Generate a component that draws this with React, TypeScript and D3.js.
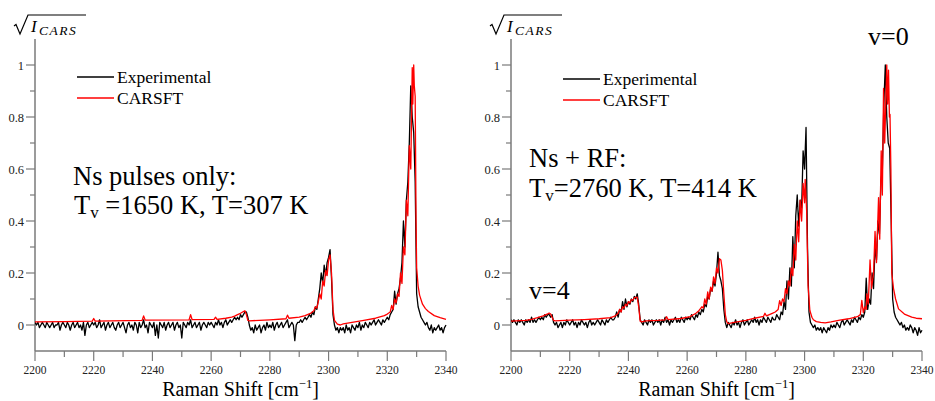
import * as d3 from 'd3';

// experimental spectra, sampled every 0.5 cm-1 from 2200, values in units of 0.01
const expStart = 2200;
const expStep = 0.5;

const nsOnlyExp = [
  1, 0, 1, -1, 0, 1, 0, -1, 1, 0, -1, 0, 1, -1, 0, 0, 1, -2, 0, 1,
  0, -1, 1, 0, -2, 0, 1, -1, 0, 1, -1, 0, -2, 1, -4, 0, 1, -1, 0, 1,
  0, 1, -1, 0, 2, -1, 0, 1, -2, 0, 1, -1, 0, 1, -1, -2, 0, 1, -1, 0,
  1, -1, -3, 0, 1, -1, 0, -2, 1, 0, -3, 1, -1, 0, 2, -1, 0, -3, 1, 0,
  -1, 1, -4, 0, -5, 1, 0, -1, 1, -2, 0, 1, -1, 0, 1, -2, 0, 1, -1, 0,
  -5, 1, 0, -1, 1, 0, 2, -1, 0, 1, -1, 0, 1, -2, 0, 1, 0, -1, 1, 0,
  1, 0, -1, 1, 0, 2, 0, 1, -1, 1, 2, 0, 1, 2, 1, 2, 3, 2, 3, 2,
  4, 3, 4, 5, 5, 3, 0, -2, -1, -3, 0, -2, -1, 0, -3, -1, 0, -2, 1, -1,
  0, -1, 1, -2, 0, 1, -1, 0, 1, -1, 0, 1, 2, -1, 0, 1, 0, -6, 0, 1,
  1, 2, 1, 2, 3, 2, 3, 4, 3, 5, 4, 7, 6, 10, 14, 20, 16, 23, 19, 24,
  26, 29, 18, 4, 0, -2, -1, -3, -1, -2, -1, -3, 0, -2, -1, -3, 0, -1, -2, 0,
  -1, 1, -2, 0, -1, 1, 0, -1, 1, 0, 1, 2, 0, 1, 2, 1, 0, 2, 1, 2,
  3, 2, 4, 5, 6, 13, 8, 12, 14, 18, 24, 40, 30, 48, 55, 70, 92, 80, 74, 55,
  12, 7, 5, 3, 2, 1, 0, 1, -1, -2, 0, -3, -1, -2, -1, 0, -2, -1, -3, -1,
  0,
];

const nsRfExp = [
  2, 1, 2, 1, 0, 2, 1, 2, 1, 0, 2, 1, 2, 1, 3, 1, 2, 1, 2, 3,
  2, 3, 2, 4, 3, 4, 4, 3, 4, 1, 0, 1, -1, 0, 1, -1, 1, 0, 2, 1,
  0, 1, 2, 0, 1, -1, 1, 0, 2, 1, 0, 1, -1, 1, 2, 0, 1, 0, 1, 2,
  1, 0, 2, 1, 0, 2, 1, 2, 3, 2, 2, 3, 5, 3, 6, 5, 9, 6, 10, 7,
  9, 8, 10, 9, 11, 10, 12, 8, 2, 1, 0, 2, 1, 0, 2, 1, 2, 0, 1, 2,
  1, 2, 0, 2, 1, 3, 1, 2, 0, 2, 1, 2, 3, 1, 2, 1, 3, 2, 1, 3,
  2, 3, 2, 4, 3, 2, 4, 3, 5, 4, 6, 5, 8, 7, 11, 10, 14, 13, 17, 15,
  20, 28, 19, 17, 14, 6, 1, -1, 1, 0, -1, 1, 0, 2, 0, 1, -1, 1, 2, 0,
  1, 2, 0, 1, 2, 1, 3, 1, 2, 0, 2, 1, 3, 2, 1, 3, 2, 1, 3, 2,
  2, 4, 3, 2, 5, 4, 9, 6, 17, 10, 22, 15, 34, 22, 42, 50, 38, 48, 45, 67,
  60, 76, 30, 5, 1, 0, -1, 0, -2, -1, -2, -1, -3, -1, -2, -3, -1, -2, 0, -1,
  0, -1, 1, 0, -1, 1, 2, 0, 1, 2, 1, 0, 2, 1, 3, 2, 1, 3, 2, 4,
  3, 5, 18, 6, 10, 8, 20, 14, 30, 25, 40, 35, 55, 60, 85, 100, 80, 70, 68, 40,
  10, 5, 3, 2, 1, 0, 1, -1, 0, -2, -1, -2, 0, -1, -3, -1, -2, -4, -1, -3,
  -2,
];

// CARSFT fits (Raman shift, value in units of 0.01)
const nsOnlyFitShift = [
  2200, 2210, 2219.5, 2220, 2220.5, 2236.5, 2237, 2237.5, 2252.5, 2253, 2253.5, 2261, 2261.5, 2262,
  2265, 2267, 2268, 2269, 2270, 2271, 2271.5, 2272, 2272.5, 2273, 2280, 2285.5, 2286, 2286.5,
  2290, 2292, 2294, 2295, 2295.5, 2296, 2296.5, 2297, 2297.5, 2298, 2298.5, 2299, 2299.5, 2300,
  2300.5, 2301, 2301.5, 2302, 2303, 2304, 2305, 2308, 2312, 2316, 2319, 2320, 2321, 2321.5,
  2322, 2322.5, 2323, 2323.5, 2324, 2324.5, 2325, 2325.5, 2326, 2326.5, 2327, 2327.5, 2328,
  2328.5, 2328.7, 2329, 2329.2, 2329.5, 2329.8, 2330, 2330.5, 2331, 2332, 2333, 2334, 2336,
  2338, 2340,
];
const nsOnlyFit = [
  1.2, 1.3, 1.5, 2.5, 1.5, 1.8, 3.5, 1.9, 2.0, 4.0, 2.1, 2.2, 3.0, 2.2,
  2.6, 3.0, 3.4, 4.0, 4.5, 5.2, 5.5, 4.0, 1.8, 1.6, 2.0, 2.4, 3.8, 2.6,
  3.0, 3.6, 4.6, 5.5, 7, 6.5, 9, 12, 10, 17, 15, 21, 19, 25,
  27, 20, 6, 1.8, 0.3, 0, 0.4, 1.0, 1.8, 2.6, 3.6, 4.2, 5, 7.5,
  6, 10, 8.5, 12, 11, 20, 16, 30, 27, 48, 42, 69, 60,
  99, 85, 100, 92, 88, 40, 22, 15, 11.5, 8, 6.3, 5.2, 3.6,
  2.8, 2.2,
];

const nsRfFitShift = [
  2200, 2205, 2207, 2209, 2211, 2212.5, 2213, 2213.5, 2214, 2214.5, 2215, 2220, 2225, 2230,
  2234, 2235.5, 2236.5, 2237, 2237.5, 2238, 2238.5, 2239, 2239.5, 2240, 2240.5, 2241, 2241.5, 2242,
  2243, 2243.5, 2244, 2244.5, 2246, 2250, 2252.5, 2253, 2253.5, 2258, 2261, 2263, 2264, 2265,
  2265.5, 2266, 2266.5, 2267, 2267.5, 2268, 2268.5, 2269, 2269.5, 2270, 2270.5, 2271, 2271.5, 2272,
  2272.5, 2273, 2273.5, 2274, 2276, 2280, 2283, 2286, 2286.5, 2287, 2289, 2290, 2291, 2291.5,
  2292, 2292.5, 2293, 2293.5, 2294, 2294.5, 2295, 2295.5, 2296, 2296.5, 2297, 2297.5, 2298, 2298.5,
  2299, 2299.5, 2300, 2300.2, 2300.7, 2301.2, 2301.8, 2302.5, 2303, 2304, 2305.5, 2307, 2309, 2312,
  2315, 2318, 2319, 2319.5, 2320, 2320.5, 2321, 2321.2, 2321.7, 2322.3, 2322.8, 2323.5, 2324, 2324.5,
  2325.2, 2325.6, 2326.1, 2326.5, 2326.9, 2327.3, 2328, 2328.3, 2328.6, 2328.9, 2329.1, 2329.4, 2329.7,
  2330.3, 2331, 2332, 2334, 2336.5, 2338, 2340,
];
const nsRfFit = [
  1.5, 1.8, 2.2, 2.8, 3.5, 4.3, 4.6, 4.2, 3, 1.8, 1.6, 1.9, 2.1, 2.4,
  2.8, 3.5, 4.5, 6, 5, 7, 6.5, 8, 7.5, 9, 8.5, 9.8, 9.5, 10.5,
  10.7, 7, 1.5, 1.2, 1.6, 1.8, 2, 3.2, 2.1, 2.5, 3.2, 4.5, 5.5, 7,
  6.5, 10, 8, 12.7, 10, 14.6, 13, 18.5, 16, 22, 20, 25.5, 25, 21,
  12, 4, 1.2, 0.5, 1, 1.8, 2.6, 3.3, 4.5, 3.5, 4.5, 5, 6, 9.4,
  7.5, 10, 9, 14, 12, 17, 15, 22, 19, 31, 25, 40, 32, 48,
  40, 54.5, 47, 56, 44, 15, 5.6, 3, 2, 1.3, 1, 0.8, 1.2, 1.9,
  2.4, 3.2, 4, 9.5, 4.8, 7, 6, 12, 8, 25, 14, 20, 36, 24,
  49, 33, 67, 50, 91, 70, 100, 85, 98, 80, 81, 60, 20,
  14, 10, 6.2, 4.2, 3, 2.6, 2.4,
];

const xMajorTicks = [2200, 2220, 2240, 2260, 2280, 2300, 2320, 2340];
const xMinorTicks = [2210, 2230, 2250, 2270, 2290, 2310, 2330];
const yMajorTicks = [0, 0.2, 0.4, 0.6, 0.8, 1];
const yTickLabels = ['0', '0.2', '0.4', '0.6', '0.8', '1'];
const yMinorTicks = [0.1, 0.3, 0.5, 0.7, 0.9];
const seriesNames = ['Experimental', 'CARSFT'];

const serif = 'Liberation Serif, DejaVu Serif, serif';
const axisColor = '#7a7a7a';

type PanelProps = {
  left: number;
  id: string;
  exp: number[];
  fitShift: number[];
  fit: number[];
  legendX: number;
  legendY: number;
  children?: any;
};

function Panel({ left, id, exp, fitShift, fit, legendX, legendY, children }: PanelProps) {
  const x = d3.scaleLinear().domain([2200, 2340]).range([left, left + 411]);
  const y = d3.scaleLinear().domain([-0.1, 1.1]).range([351, 39]);

  const expLine = d3
    .line<number>()
    .x((_, i) => x(expStart + i * expStep))
    .y(d => y(d / 100));
  const fitLine = d3
    .line<number>()
    .x((_, i) => x(fitShift[i]))
    .y(d => y(d / 100));

  const bottom = y(-0.1);
  const top = y(1.1);

  return (
    <g>
      <defs>
        <clipPath id={id}>
          <rect x={x(2200)} y={top - 5} width={x(2340) - x(2200) + 1} height={bottom - top + 5} />
        </clipPath>
      </defs>

      {/* y label */}
      <path
        d={`M${left - 21},26 L${left - 19},24.5 L${left - 15},34 L${left - 7},15 L${left + 51},15`}
        fill="none"
        stroke="#000"
        strokeWidth={1.2}
      />
      <text x={left - 4} y={32} fontStyle="italic" fontSize={17}>I</text>
      <text x={left + 4} y={35} fontStyle="italic" fontSize={13.5} letterSpacing={1.5}>CARS</text>

      {/* axes */}
      <line x1={left} x2={left} y1={top} y2={bottom} stroke={axisColor} strokeWidth={1.5} />
      <line x1={left} x2={x(2340)} y1={bottom} y2={bottom} stroke={axisColor} strokeWidth={1.5} />
      {yMajorTicks.map((t, i) => (
        <g key={t}>
          <line x1={left - 9} x2={left} y1={y(t)} y2={y(t)} stroke={axisColor} strokeWidth={1.2} />
          <text x={left - 11} y={y(t) + 4.5} textAnchor="end" fontSize={12.5} fill="#222">
            {yTickLabels[i]}
          </text>
        </g>
      ))}
      {yMinorTicks.map(t => (
        <line key={t} x1={left - 5} x2={left} y1={y(t)} y2={y(t)} stroke={axisColor} strokeWidth={1.2} />
      ))}
      {xMajorTicks.map(t => (
        <g key={t}>
          <line x1={x(t)} x2={x(t)} y1={bottom} y2={bottom + 10} stroke={axisColor} strokeWidth={1.2} />
          <text x={x(t)} y={374} textAnchor="middle" fontSize={11.5} fill="#222">{t}</text>
        </g>
      ))}
      {xMinorTicks.map(t => (
        <line key={t} x1={x(t)} x2={x(t)} y1={bottom} y2={bottom + 6} stroke={axisColor} strokeWidth={1.2} />
      ))}
      <text x={(x(2200) + x(2340)) / 2} y={396} textAnchor="middle" fontSize={20}>
        Raman Shift [cm
        <tspan fontSize={12.5} dy={-8}>−1</tspan>
        <tspan dy={8}>]</tspan>
      </text>

      {/* data */}
      <g clipPath={`url(#${id})`}>
        <path d={expLine(exp) ?? ''} fill="none" stroke="#000" strokeWidth={1.3} strokeLinejoin="round" />
        <path d={fitLine(fit) ?? ''} fill="none" stroke="#ff0000" strokeWidth={1.3} strokeLinejoin="round" />
      </g>

      {/* legend */}
      {seriesNames.map((name, i) => (
        <g key={name}>
          <line x1={legendX} x2={legendX + 37} y1={legendY + i * 21} y2={legendY + i * 21}
            stroke={i === 0 ? '#000' : '#ff0000'} strokeWidth={1.5} />
          <text x={legendX + 40} y={legendY + i * 21 + 6} fontSize={17.5}>{name}</text>
        </g>
      ))}

      {children}
    </g>
  );
}

export default function App() {
  return (
    <svg width={935} height={401}
      style={{ position: 'absolute', left: 0, top: 0, background: '#fff', fontFamily: serif }}>
      <rect width={935} height={401} fill="#fff" />
      <Panel left={35} id="clipA" exp={nsOnlyExp} fitShift={nsOnlyFitShift} fit={nsOnlyFit} legendX={77} legendY={77}>
        <text x={73} y={185} fontSize={26.5}>Ns pulses only:</text>
        <text x={74} y={214} fontSize={26.5}>
          T<tspan fontSize={17} dy={4}>v</tspan>
          <tspan dy={-4}> =1650 K, T=307 K</tspan>
        </text>
      </Panel>
      <Panel left={511} id="clipB" exp={nsRfExp} fitShift={nsRfFitShift} fit={nsRfFit} legendX={563} legendY={79}>
        <text x={529} y={167} fontSize={26.5}>Ns + RF:</text>
        <text x={529} y={197} fontSize={26.5}>
          T<tspan fontSize={17} dy={4}>v</tspan>
          <tspan dy={-4}>=2760 K, T=414 K</tspan>
        </text>
        <text x={868} y={45} fontSize={26}>v=0</text>
        <text x={529} y={299} fontSize={26}>v=4</text>
      </Panel>
    </svg>
  );
}
